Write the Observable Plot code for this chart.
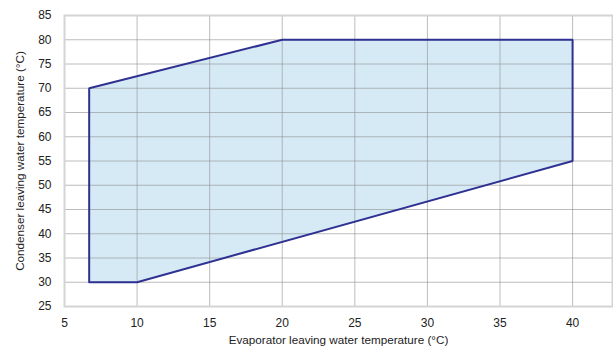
<!DOCTYPE html>
<html>
<head>
<meta charset="utf-8">
<script src="https://cdn.jsdelivr.net/npm/d3@7"></script>
<script src="https://cdn.jsdelivr.net/npm/@observablehq/plot@0.6"></script>
<style>
  html, body { margin: 0; padding: 0; background: #fff; }
  svg { display: block; }
</style>
</head>
<body>
<div id="chart"></div>
<script>
const evapTemp = [6.7, 6.7, 20, 40, 40, 10, 6.7];
const condTemp = [30, 70, 80, 80, 55, 30, 30];
const xTicks = [5, 10, 15, 20, 25, 30, 35, 40];
const yTicks = [25, 30, 35, 40, 45, 50, 55, 60, 65, 70, 75, 80, 85];
const xLabel = "Evaporator leaving water temperature (°C)";
const yLabel = "Condenser leaving water temperature (°C)";

const envelope = evapTemp.map((x, i) => ({x, y: condTemp[i]}));

const chart = Plot.plot({
  width: 613,
  height: 349,
  marginLeft: 64,
  marginTop: 15,
  marginBottom: 43,
  marginRight: 1,
  style: {fontFamily: "'Liberation Sans', Arial, sans-serif", fontSize: "12px", color: "#222", background: "#fff"},
  x: {domain: [5, 42.75]},
  y: {domain: [25, 85]},
  marks: [
    Plot.line(envelope, {x: "x", y: "y", fill: "#d6eaf6", stroke: "none"}),
    Plot.gridX(xTicks, {stroke: "#8f8f8f", strokeOpacity: 0.6, strokeWidth: 1}),
    Plot.gridY(yTicks, {stroke: "#8f8f8f", strokeOpacity: 0.6, strokeWidth: 1}),
    Plot.frame({stroke: "#d4d4d4", strokeWidth: 2}),
    Plot.line(envelope, {x: "x", y: "y", stroke: "#2e3192", strokeWidth: 2, strokeLinejoin: "miter"}),
    Plot.axisX(xTicks, {tickSize: 0, tickPadding: 12, label: null, fontSize: 12}),
    Plot.axisY(yTicks, {tickSize: 0, tickPadding: 13, label: null, fontSize: 12}),
    Plot.text([xLabel], {frameAnchor: "bottom", dy: 37, text: d => d, fontSize: 11.7, textAnchor: "middle"}),
    Plot.text([yLabel], {frameAnchor: "left", dx: -44, rotate: -90, text: d => d, fontSize: 11.7, textAnchor: "middle"})
  ]
});
document.getElementById("chart").appendChild(chart);
</script>
</body>
</html>
